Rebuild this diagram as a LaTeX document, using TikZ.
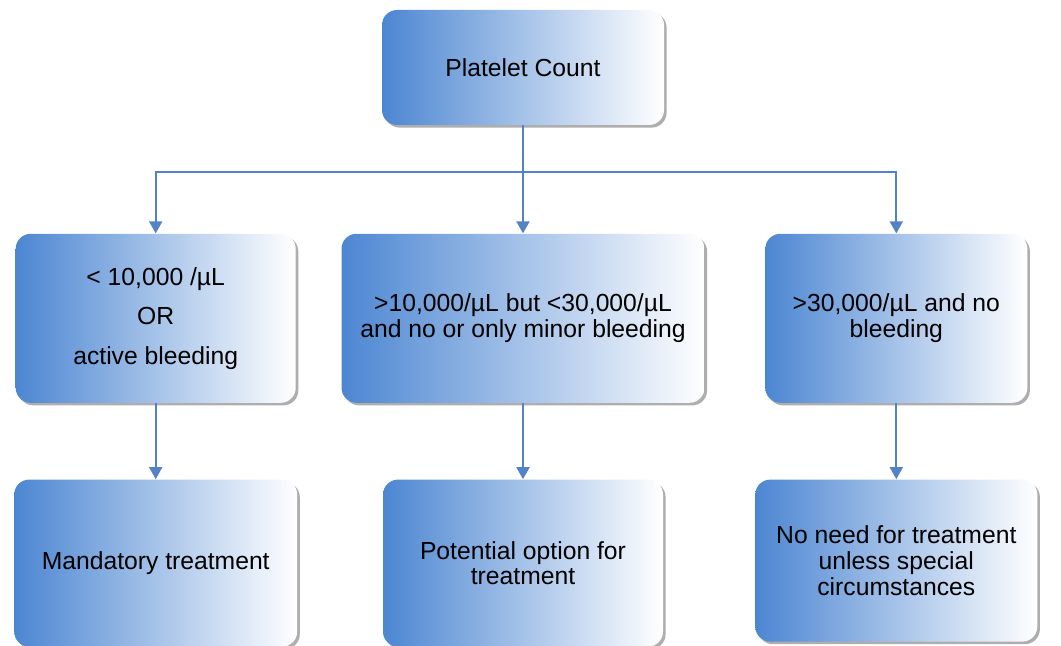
\documentclass[tikz,border=0pt]{standalone}
\usepackage{fontspec}
\setmainfont{Liberation Sans}
\usepackage{tikz}
\usepackage{xcolor}
\usetikzlibrary{arrows.meta,positioning,shadows}

\definecolor{boxblue}{RGB}{76,134,210}
\definecolor{lineblue}{RGB}{84,130,198}

\begin{document}
\begin{tikzpicture}[
    box/.style={rounded corners=7.5pt, left color=boxblue, right color=white,
        minimum width=141pt, minimum height=84.5pt, align=center,
        font=\fontsize{12.35}{12.8}\selectfont,
        drop shadow={shadow xshift=1.3pt, shadow yshift=-1.3pt, opacity=.45, fill=black!70}},
    arrow/.style={-{Triangle[length=6pt, width=6.5pt]}, line width=1pt, draw=lineblue},
    line/.style={line width=1pt, draw=lineblue}
]
    \useasboundingbox (0,0) rectangle (530.5pt,-323pt);

    \node[box, minimum height=57.5pt] (count) at (261.5pt,-33.75pt) {Platelet Count};

    \node[box, minimum width=181.5pt, below=54pt of count] (mid) {>10,000/µL but <30,000/µL\\and no or only minor bleeding};
    \node[box, minimum width=140pt, left=22.5pt of mid] (low) {< 10,000 /µL\\[7pt]OR\\[7pt]active bleeding};
    \node[box, minimum width=131pt, right=30pt of mid] (high) {>30,000/µL and no\\bleeding};

    \node[box, minimum width=141.5pt, minimum height=83.5pt, below=38pt of low] (must) {Mandatory treatment};
    \node[box, minimum width=140pt, minimum height=83.5pt, below=38pt of mid] (maybe) {Potential option for\\treatment};
    \node[box, minimum width=141pt, minimum height=81pt, below=38pt of high] (none) {No need for treatment\\unless special\\circumstances};

    \coordinate[below=23.5pt of count] (split);

    \draw[line] (count) -- (split);
    \draw[arrow] (split) -| (low);
    \draw[arrow] (split) -- (mid);
    \draw[arrow] (split) -| (high);
    \draw[arrow] (low) -- (must);
    \draw[arrow] (mid) -- (maybe);
    \draw[arrow] (high) -- (none);
\end{tikzpicture}
\end{document}
